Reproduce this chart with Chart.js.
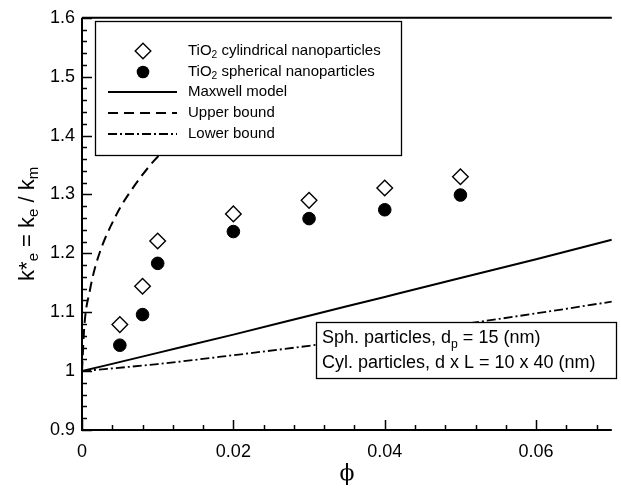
<!DOCTYPE html>
<html>
<head>
<meta charset="utf-8">
<script src="https://cdn.jsdelivr.net/npm/chart.js@4.4.1/dist/chart.umd.min.js"></script>
<style>
  html, body { margin: 0; padding: 0; background: #fff; }
</style>
</head>
<body>
<canvas id="chart" width="621" height="488"></canvas>
<script>
const phi = [0.005, 0.008, 0.01, 0.02, 0.03, 0.04, 0.05];
const kCyl = [1.079, 1.144, 1.221, 1.267, 1.290, 1.311, 1.330];
const kSph = [1.044, 1.096, 1.183, 1.237, 1.259, 1.274, 1.299];

// model curves
const phiModel = [0, 0.01, 0.02, 0.03, 0.04, 0.05, 0.06, 0.07];
const kMaxwell = [1.0, 1.031, 1.062, 1.094, 1.126, 1.158, 1.190, 1.223];
const kLower = [1.0, 1.012, 1.027, 1.043, 1.060, 1.079, 1.098, 1.118];
const phiUpper = [0, 0.0003, 0.00104, 0.002, 0.0046, 0.0064, 0.0095, 0.013, 0.018, 0.025, 0.03];
const kUpper = [1.0, 1.075, 1.137, 1.188, 1.267, 1.305, 1.357, 1.40, 1.45, 1.51, 1.55];

// axes
const xTicks = [0, 0.02, 0.04, 0.06];
const xTickLabels = ['0', '0.02', '0.04', '0.06'];
const yTicks = [0.9, 1.0, 1.1, 1.2, 1.3, 1.4, 1.5, 1.6];
const yTickLabels = ['0.9', '1', '1.1', '1.2', '1.3', '1.4', '1.5', '1.6'];

const FONT = '"Liberation Sans", Arial, Helvetica, sans-serif';
const DASH_UPPER = [10, 6];
const DASH_LOWER = [9, 3, 2, 3];

const pts = (xs, ys) => xs.map((x, i) => ({ x: x, y: ys[i] }));

// draw text pieces with subscripts, returns end x
function drawRuns(ctx, x, y, runs, size) {
    runs.forEach(r => {
        const s = r.sub ? size * 0.68 : size;
        ctx.font = s + 'px ' + FONT;
        ctx.fillText(r.t, x, y + (r.sub ? size * 0.28 : 0));
        x += ctx.measureText(r.t).width;
    });
    return x;
}
function runsWidth(ctx, runs, size) {
    let w = 0;
    runs.forEach(r => {
        ctx.font = (r.sub ? size * 0.68 : size) + 'px ' + FONT;
        w += ctx.measureText(r.t).width;
    });
    return w;
}

const decorPlugin = {
    id: 'decor',
    afterDraw(chart) {
        const ctx = chart.ctx;
        const xs = chart.scales.x, ys = chart.scales.y;
        const area = chart.chartArea;
        ctx.save();
        ctx.strokeStyle = '#000';
        ctx.fillStyle = '#000';

        // frame lines (left, bottom, top)
        ctx.lineWidth = 2;
        ctx.beginPath();
        ctx.moveTo(area.left, area.top);
        ctx.lineTo(area.right, area.top);
        ctx.moveTo(area.left, area.top);
        ctx.lineTo(area.left, area.bottom);
        ctx.lineTo(area.right, area.bottom);
        ctx.stroke();

        // inward ticks
        ctx.lineWidth = 1.5;
        ctx.beginPath();
        for (let v = 0.9; v <= 1.6001; v += 0.02) {
            const y = Math.round(ys.getPixelForValue(v)) + 0.5;
            const major = Math.abs(v * 10 - Math.round(v * 10)) < 1e-6;
            ctx.moveTo(area.left, y);
            ctx.lineTo(area.left + (major ? 10 : 5), y);
        }
        for (let v = 0; v <= 0.07; v += 0.004) {
            const x = Math.round(xs.getPixelForValue(v)) + 0.5;
            const major = Math.abs(v * 50 - Math.round(v * 50)) < 1e-6;
            ctx.moveTo(x, area.bottom);
            ctx.lineTo(x, area.bottom - (major ? 10 : 5));
        }
        ctx.stroke();

        // legend box
        const lx = 95, ly = 21, lw = 306, lh = 134;
        ctx.fillStyle = '#fff';
        ctx.fillRect(lx, ly, lw, lh);
        ctx.lineWidth = 1.3;
        ctx.strokeRect(lx + 0.5, ly + 0.5, lw, lh);

        const ds = chart.data.datasets;
        const rowY = [51, 72, 92, 113, 134];
        const symX = 143, lineX0 = 108, lineX1 = 177, textX = 188;
        ctx.fillStyle = '#000';
        ctx.textBaseline = 'middle';
        ctx.textAlign = 'left';
        const legendSize = 15;

        // diamond
        ctx.beginPath();
        const r = ds[4].pointRadius;
        ctx.moveTo(symX, rowY[0] - r);
        ctx.lineTo(symX + r, rowY[0]);
        ctx.lineTo(symX, rowY[0] + r);
        ctx.lineTo(symX - r, rowY[0]);
        ctx.closePath();
        ctx.fillStyle = '#fff';
        ctx.fill();
        ctx.lineWidth = ds[4].borderWidth;
        ctx.stroke();
        ctx.fillStyle = '#000';
        // circle
        ctx.beginPath();
        ctx.arc(symX, rowY[1], ds[3].pointRadius, 0, Math.PI * 2);
        ctx.fill();

        [[ds[2], rowY[2]], [ds[0], rowY[3]], [ds[1], rowY[4]]].forEach(([d, y]) => {
            ctx.setLineDash(d.borderDash || []);
            ctx.lineWidth = d.borderWidth;
            ctx.beginPath();
            ctx.moveTo(lineX0, y);
            ctx.lineTo(lineX1, y);
            ctx.stroke();
        });
        ctx.setLineDash([]);

        drawRuns(ctx, textX, rowY[0], [{ t: 'TiO' }, { t: '2', sub: true }, { t: ' cylindrical nanoparticles' }], legendSize);
        drawRuns(ctx, textX, rowY[1], [{ t: 'TiO' }, { t: '2', sub: true }, { t: ' spherical nanoparticles' }], legendSize);
        drawRuns(ctx, textX, rowY[2], [{ t: 'Maxwell model' }], legendSize);
        drawRuns(ctx, textX, rowY[3], [{ t: 'Upper bound' }], legendSize);
        drawRuns(ctx, textX, rowY[4], [{ t: 'Lower bound' }], legendSize);

        // annotation box
        const ax = 316, ay = 322, aw = 300, ah = 56;
        ctx.fillStyle = '#fff';
        ctx.fillRect(ax, ay, aw, ah);
        ctx.lineWidth = 1.3;
        ctx.strokeRect(ax + 0.5, ay + 0.5, aw, ah);
        ctx.fillStyle = '#000';
        ctx.textBaseline = 'alphabetic';
        drawRuns(ctx, 322, 343, [{ t: 'Sph. particles, d' }, { t: 'p', sub: true }, { t: ' = 15 (nm)' }], 18);
        drawRuns(ctx, 322, 368, [{ t: 'Cyl. particles, d x L = 10 x 40 (nm)' }], 18);

        // axis titles
        ctx.textBaseline = 'middle';
        ctx.font = '22px "DejaVu Serif", "Liberation Serif", serif';
        ctx.textAlign = 'center';
        ctx.fillText('\u03d5', (area.left + area.right) / 2, 474);

        ctx.textAlign = 'left';
        const yRuns = [{ t: 'k*' }, { t: 'e', sub: true }, { t: ' = k' }, { t: 'e', sub: true }, { t: ' / k' }, { t: 'm', sub: true }];
        const w = runsWidth(ctx, yRuns, 22);
        ctx.translate(28, (area.top + area.bottom) / 2);
        ctx.rotate(-Math.PI / 2);
        drawRuns(ctx, -w / 2, 0, yRuns, 22);
        ctx.restore();
    }
};

new Chart(document.getElementById('chart'), {
    type: 'scatter',
    data: {
        datasets: [
            {
                label: 'Upper bound',
                data: pts(phiUpper, kUpper),
                showLine: true, borderColor: '#000', borderWidth: 2,
                borderDash: DASH_UPPER, pointRadius: 0,
                cubicInterpolationMode: 'monotone', order: 5
            },
            {
                label: 'Lower bound',
                data: pts(phiModel, kLower),
                showLine: true, borderColor: '#000', borderWidth: 1.8,
                borderDash: DASH_LOWER, pointRadius: 0,
                cubicInterpolationMode: 'monotone', order: 4
            },
            {
                label: 'Maxwell model',
                data: pts(phiModel, kMaxwell),
                showLine: true, borderColor: '#000', borderWidth: 2,
                pointRadius: 0, cubicInterpolationMode: 'monotone', order: 3
            },
            {
                label: 'TiO2 spherical nanoparticles',
                data: pts(phi, kSph),
                pointStyle: 'circle', pointRadius: 6.3,
                backgroundColor: '#000', borderColor: '#000', borderWidth: 1, order: 2
            },
            {
                label: 'TiO2 cylindrical nanoparticles',
                data: pts(phi, kCyl),
                pointStyle: 'rectRot', pointRadius: 7.8,
                backgroundColor: '#fff', borderColor: '#000', borderWidth: 1.4, order: 1
            }
        ]
    },
    options: {
        responsive: false,
        animation: false,
        devicePixelRatio: 1,
        layout: { padding: { top: 16, right: 0, left: 0, bottom: 0 } },
        plugins: { legend: { display: false }, tooltip: { enabled: false } },
        scales: {
            x: {
                type: 'linear', min: 0, max: 0.07,
                afterBuildTicks: s => { s.ticks = xTicks.map(v => ({ value: v })); },
                afterFit: s => { s.height = 58; },
                grid: { display: false, drawTicks: false },
                border: { display: false },
                ticks: {
                    padding: 11, color: '#000', maxRotation: 0,
                    font: { family: FONT, size: 18 },
                    callback: (v, i) => xTickLabels[i]
                }
            },
            y: {
                type: 'linear', min: 0.9, max: 1.6,
                afterBuildTicks: s => { s.ticks = yTicks.map(v => ({ value: v })); },
                afterFit: s => { s.width = 82; },
                grid: { display: false, drawTicks: false },
                border: { display: false },
                ticks: {
                    padding: 7, color: '#000',
                    font: { family: FONT, size: 18 },
                    callback: (v, i) => yTickLabels[i]
                }
            }
        }
    },
    plugins: [decorPlugin]
});
</script>
</body>
</html>
